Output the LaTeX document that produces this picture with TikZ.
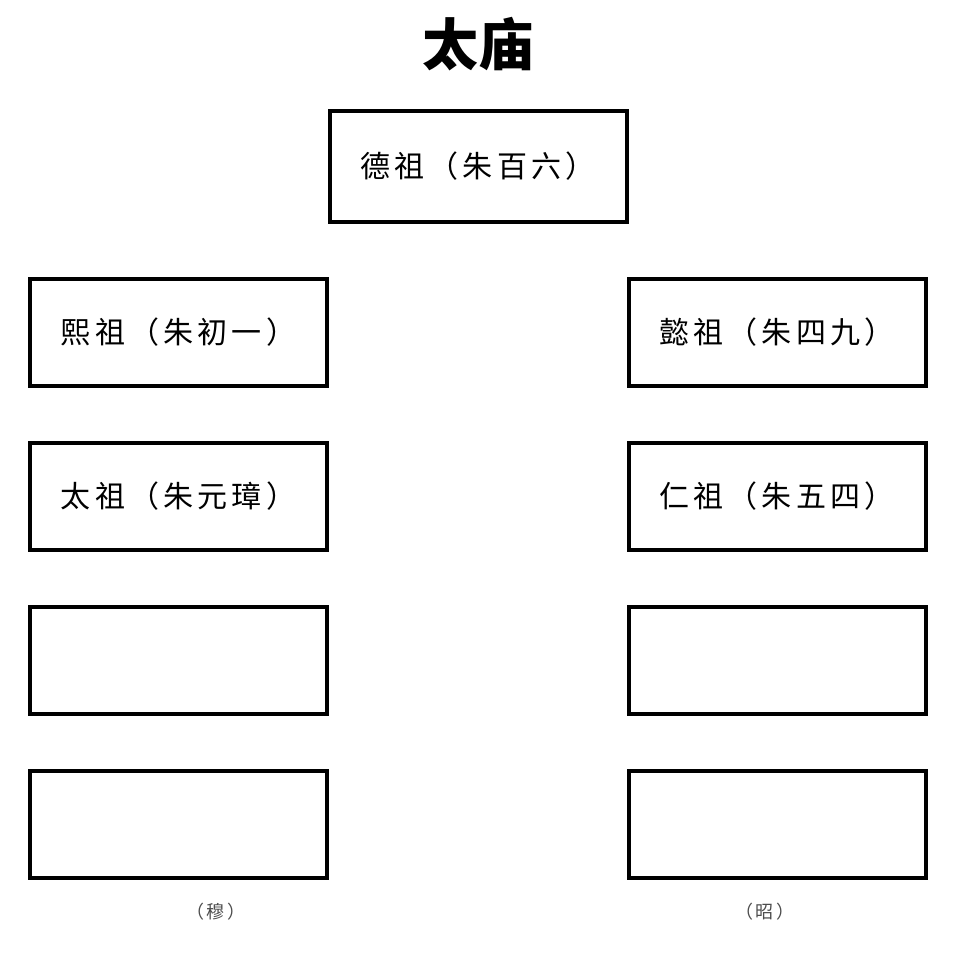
\documentclass[tikz,border=0pt]{standalone}
\usepackage{fontspec}
\newfontfamily\cjk[LetterSpace=14]{Noto Sans CJK SC}
\newfontfamily\cjkb{Noto Sans CJK SC Black}
\begin{document}
\begin{tikzpicture}[x=1pt,y=-1pt,
  hall/.style={draw=black,line width=4pt,minimum width=297pt,minimum height=107pt,inner sep=0pt,
    font=\cjk\fontsize{30}{32}\selectfont},
  side/.style={font=\cjk\fontsize{18}{20}\selectfont,text=black!70}]
\useasboundingbox[fill=white] (0,0) rectangle (960,958);
\node[font=\cjkb\fontsize{56}{60}\selectfont] (title) at (478,44) {太庙};
\node[hall,minimum height=111pt] (d) at (478,166.5) {德祖（朱百六）};
\node[hall] (l1) at (178.5,332.5) {熙祖（朱初一）};
\node[hall] (l2) at (178.5,496.5) {太祖（朱元璋）};
\node[hall] (l3) at (178.5,660.5) {};
\node[hall] (l4) at (178.5,824.5) {};
\node[hall] (r1) at (777,332.5) {懿祖（朱四九）};
\node[hall] (r2) at (777,496.5) {仁祖（朱五四）};
\node[hall] (r3) at (777,660.5) {};
\node[hall] (r4) at (777,824.5) {};
\node[side] (mu) at (216,912) {（穆）};
\node[side] (zhao) at (765,912) {（昭）};
\end{tikzpicture}
\end{document}
